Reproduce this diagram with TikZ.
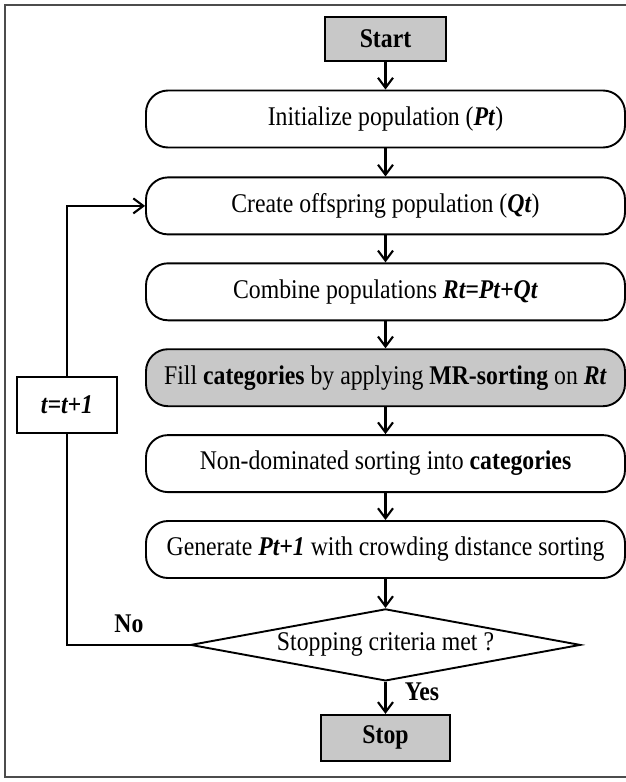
\documentclass[tikz,border=0pt]{standalone}
\usepackage{fontspec}
\setmainfont{Liberation Serif}[FakeStretch=0.88]
\usetikzlibrary{arrows.meta,positioning,shapes.geometric}
\definecolor{boxgray}{RGB}{200,200,200}
\tikzset{
  txt/.style={font=\fontsize{27}{31}\selectfont},
  stepbox/.style={
    draw, txt, line width=1.9pt, rounded corners=22pt, align=center,
    minimum width=479pt, minimum height=57pt, inner sep=0pt
  },
  shaded/.style={stepbox, fill=boxgray},
  term/.style={
    draw, txt, line width=1.9pt, fill=boxgray, font=\fontsize{27}{31}\selectfont\bfseries,
    minimum height=44pt, inner sep=0pt
  },
  decide/.style={
    draw, txt, diamond, aspect=5.4, line width=1.9pt,
    minimum width=390pt, minimum height=72pt, inner sep=0pt
  },
  arr/.style={-{Straight Barb[length=10pt,width=15pt]}, line width=2.1pt},
  wire/.style={line width=2.1pt},
  lbl/.style={font=\fontsize{27}{31}\selectfont\bfseries, inner sep=1pt}
}
\newcommand{\bi}[1]{\textbf{\textit{#1}}}

\begin{document}
\begin{tikzpicture}[x=1pt, y=1pt, node distance=27pt]
  \useasboundingbox (0,0) rectangle (626,-782);
  \draw[line width=2.6pt, black!70] (626,-5) -- (5,-5) -- (5,-777) -- (626,-777);

  \node[stepbox] (init) at (385.5,-119) {Initialize population (\bi{Pt})};
  \node[term, minimum width=121pt, above=28pt of init] (start) {Start};
  \node[stepbox, below=28pt of init] (create) {Create offspring population (\bi{Qt})};
  \node[stepbox, below=27pt of create] (combine) {Combine populations \bi{Rt=Pt+Qt}};
  \node[shaded, below=27pt of combine] (fill)
    {Fill \textbf{categories} by applying \textbf{MR-sorting} on \bi{Rt}};
  \node[stepbox, below=27pt of fill] (nondom) {Non-dominated sorting into \textbf{categories}};
  \node[stepbox, below=27pt of nondom] (gen) {Generate \bi{Pt+1} with crowding distance sorting};
  \node[decide, below=29pt of gen] (dec) {Stopping criteria met ?};
  \node[term, minimum width=129pt, minimum height=46pt, below=32pt of dec] (stop) {Stop};

  \node[draw, txt, fill=white, line width=1.9pt, minimum width=100pt, minimum height=56pt,
    inner sep=0pt] (incr) at (67,-405) {\bi{t=t+1}};

  \draw[arr] (start) -- (init);
  \draw[arr] (init) -- (create);
  \draw[arr] (create) -- (combine);
  \draw[arr] (combine) -- (fill);
  \draw[arr] (fill) -- (nondom);
  \draw[arr] (nondom) -- (gen);
  \draw[arr] (gen) -- (dec);
  \draw[arr] (dec) -- (stop);
  \draw[wire] (dec.west) -| (incr.south);
  \draw[arr] (incr.north) |- (create.west);

  \node[lbl] (no) at (129,-624) {No};
  \node[lbl] (yes) at (422,-692) {Yes};
\end{tikzpicture}
\end{document}
